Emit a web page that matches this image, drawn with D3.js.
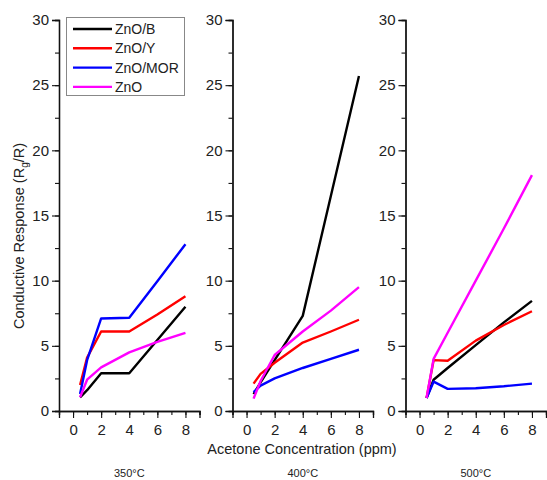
<!DOCTYPE html>
<html>
<head>
<meta charset="utf-8">
<script src="https://cdn.jsdelivr.net/npm/d3@7"></script>
<style>
  body { margin: 0; background: #fff; }
  svg text { font-family: "Liberation Sans", Arial, sans-serif; fill: #222; }
</style>
</head>
<body>
<svg id="chart" width="547" height="480"></svg>
<script>
// acetone concentration (ppm)
var conc = [0.5, 1, 2, 4, 6, 8];
var temps = ["350°C", "400°C", "500°C"];
var seriesNames = ["ZnO/B", "ZnO/Y", "ZnO/MOR", "ZnO"];
var colors = ["#000000", "#ff0000", "#0000ff", "#ff00ff"];

// response values per temperature, per series
var resp350 = [
  [1.05, 1.6, 2.9, 2.9, 5.45, 8.0],
  [2.0, 4.1, 6.1, 6.1, 7.4, 8.8],
  [1.3, 3.9, 7.1, 7.15, 9.95, 12.8],
  [1.05, 2.4, 3.35, 4.5, 5.3, 6.0]
];
var resp400 = [
  [1.3, 2.2, 3.9, 7.3, 16.5, 25.7],
  [2.1, 2.85, 3.7, 5.25, 6.1, 7.0],
  [1.45, 1.95, 2.5, 3.3, 4.0, 4.7],
  [0.95, 2.3, 4.3, 6.1, 7.7, 9.5]
];
var resp500 = [
  [1.0, 2.4, 3.3, 5.05, 6.8, 8.45],
  [1.0, 3.9, 3.85, 5.4, 6.6, 7.65],
  [1.0, 2.25, 1.7, 1.75, 1.9, 2.1],
  [1.0, 4.0, 6.0, 10.0, 14.0, 18.1]
];
var allResp = [resp350, resp400, resp500];

var xTicks = [0, 2, 4, 6, 8];
var yTicks = [0, 5, 10, 15, 20, 25, 30];

var svg = d3.select("#chart");
var panelLeft = [59, 232.5, 405.5];
var panelW = 140.5;
var plotTop = 20, plotBottom = 411;

var y = d3.scaleLinear().domain([0, 30]).range([plotBottom, plotTop]);

panelLeft.forEach(function(left, p) {
  var x = d3.scaleLinear().domain([-1, 9]).range([left, left + panelW]);
  var g = svg.append("g");

  // minor ticks
  var yMinor = d3.axisLeft(y).tickValues(d3.range(0, 30.1, 2.5)).tickSize(4).tickFormat("");
  var xMinor = d3.axisBottom(x).tickValues(d3.range(-1, 9.1, 1)).tickSize(4).tickFormat("");
  g.append("g").attr("transform", "translate(" + left + ",0)").call(yMinor);
  g.append("g").attr("transform", "translate(0," + plotBottom + ")").call(xMinor);

  var yAxis = d3.axisLeft(y).tickValues(yTicks).tickSize(7).tickPadding(3);
  var xAxis = d3.axisBottom(x).tickValues(xTicks).tickSize(7).tickPadding(6);
  g.append("g").attr("transform", "translate(" + left + ",0)").call(yAxis);
  g.append("g").attr("transform", "translate(0," + plotBottom + ")").call(xAxis);

  g.selectAll(".domain").attr("stroke", "#111").attr("stroke-width", 1.3);
  g.selectAll(".tick line").attr("stroke", "#111").attr("stroke-width", 1.1);
  g.selectAll(".tick text").style("font-size", "15px").attr("fill", "#222");

  var line = d3.line()
    .x(function(d, i) { return x(conc[i]); })
    .y(function(d) { return y(d); });

  allResp[p].forEach(function(vals, s) {
    g.append("path")
      .datum(vals)
      .attr("d", line)
      .attr("fill", "none")
      .attr("stroke", colors[s])
      .attr("stroke-width", 2.4)
      .attr("stroke-linejoin", "round");
  });

  svg.append("text")
    .attr("x", x(4))
    .attr("y", 477)
    .attr("text-anchor", "middle")
    .style("font-size", "11px")
    .text(temps[p]);
});

// axis titles
svg.append("text")
  .attr("x", 302)
  .attr("y", 454)
  .attr("text-anchor", "middle")
  .style("font-size", "14.5px")
  .text("Acetone Concentration (ppm)");

var yt = svg.append("text")
  .attr("transform", "translate(24,236) rotate(-90)")
  .attr("text-anchor", "middle")
  .style("font-size", "14.5px");
yt.append("tspan").text("Conductive Response (R");
yt.append("tspan").attr("dy", 4).style("font-size", "10px").text("g");
yt.append("tspan").attr("dy", -4).text("/R)");

// legend
var leg = svg.append("g");
leg.append("rect")
  .attr("x", 66.5).attr("y", 17.5)
  .attr("width", 118).attr("height", 78)
  .attr("fill", "#fff").attr("stroke", "#888").attr("stroke-width", 1);
seriesNames.forEach(function(name, i) {
  var ly = 29 + i * 19.3;
  leg.append("line")
    .attr("x1", 73).attr("x2", 112)
    .attr("y1", ly).attr("y2", ly)
    .attr("stroke", colors[i]).attr("stroke-width", 2.4);
  leg.append("text")
    .attr("x", 115).attr("y", ly + 5)
    .style("font-size", "14px")
    .text(name);
});
</script>
</body>
</html>
